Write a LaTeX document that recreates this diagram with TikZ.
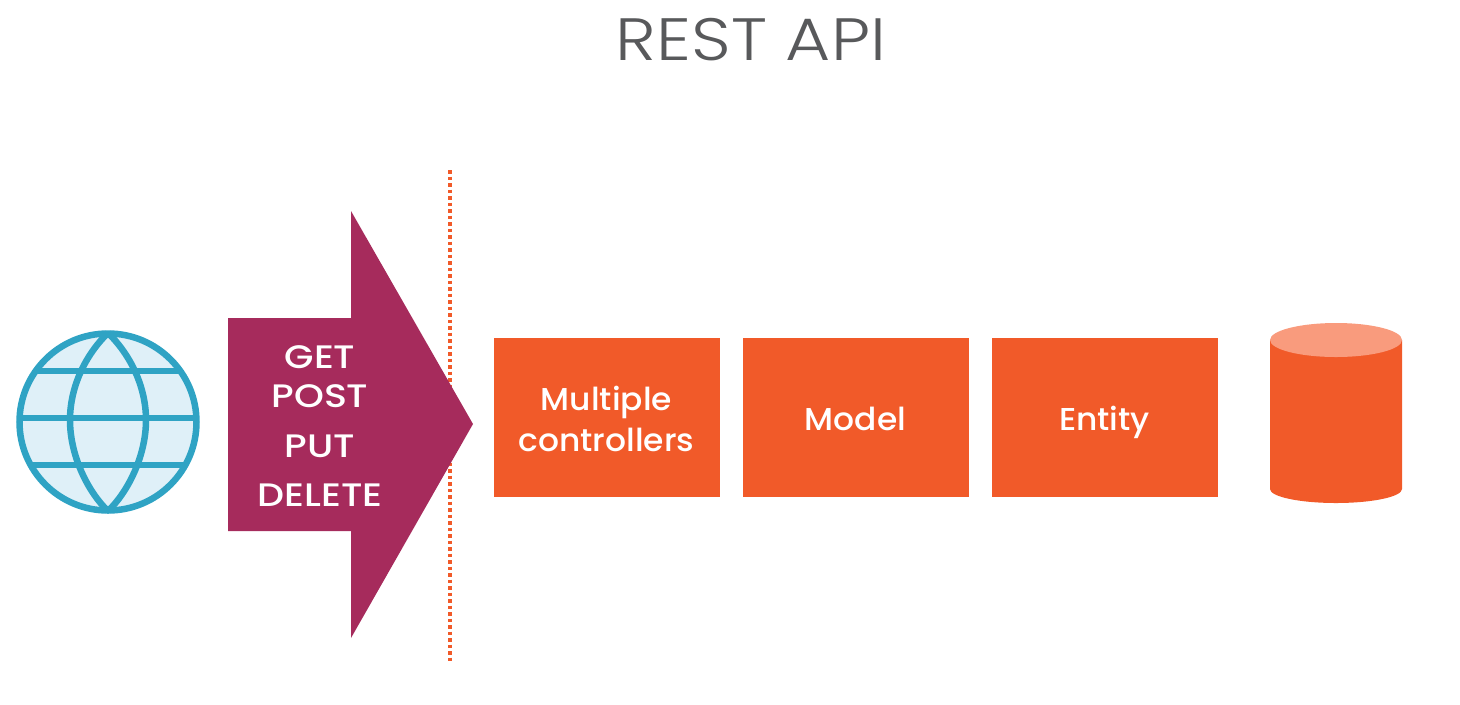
\documentclass[tikz,border=0pt]{standalone}
\usepackage{fontspec}
\setmainfont{Poppins}
\newfontfamily\thinfont[FakeStretch=1.16]{Poppins Light}
\newfontfamily\boxfont[FakeStretch=1.04]{Poppins Medium}
\newfontfamily\verbfont[FakeStretch=1.17]{Poppins Medium}
\usepackage{tikz}
\definecolor{orangebox}{HTML}{F15A29}
\definecolor{orangetop}{HTML}{F99B7D}
\definecolor{arrowred}{HTML}{A62B5C}
\definecolor{globeline}{HTML}{2FA3C4}
\definecolor{globefill}{HTML}{DFF0F8}
\definecolor{titlegray}{HTML}{58595B}
\tikzset{
	layerbox/.style={fill=orangebox, text=white, align=center, inner sep=0pt,
		minimum width=226*0.02cm, minimum height=159*0.02cm, font=\boxfont\fontsize{18}{23.2}\selectfont},
	verblabel/.style={text=white, inner sep=0pt, font=\verbfont\fontsize{18.5}{20}\selectfont},
	globeline/.style={draw=globeline, line width=3.7pt}
}

\begin{document}
\begin{tikzpicture}[x=0.02cm, y=-0.02cm]
		\useasboundingbox (0,0) rectangle (1460,704);
		\node[text=titlegray, inner sep=0pt, font=\thinfont\fontsize{34}{40}\selectfont] (title) at (751,40) {REST API};
		% globe
		\fill[globefill] (108,422) circle (88.5);
		\draw[globeline] (108,333) .. controls (89,351) and (70,383) .. (70,420) .. controls (70,457) and (89,493) .. (108,511);
		\draw[globeline] (108,333) .. controls (127,351) and (146,383) .. (146,420) .. controls (146,457) and (127,493) .. (108,511);
		\draw[globeline] (37,371) -- (179,371);
		\draw[globeline] (20,418) -- (196,418);
		\draw[globeline] (32,465) -- (184,465);
		\draw[globeline] (108,422) circle (88.5);
		% dotted boundary
		\draw[orangebox, line width=2pt, dash pattern=on 2pt off 1.7pt] (450,170) -- (450,664);
		% arrow
		\fill[arrowred] (228,318) -- (351,318) -- (351,211) -- (473,424) -- (351,638) -- (351,531) -- (228,531) -- cycle;
		\node[verblabel] (get) at (320,357) {GET};
		\node[verblabel] (post) at (320,396) {POST};
		\node[verblabel] (put) at (320,446) {PUT};
		\node[verblabel] (delete) at (320,495) {DELETE};
		% layers
		\node[layerbox, text height=38.8pt] (controllers) at (606.5,417.5) {Multiple\\controllers};
		\node[layerbox, text height=15pt, text depth=0pt] (model) at (855.5,417.5) {Model};
		\node[layerbox, text height=15pt, text depth=0pt] (entity) at (1104.5,417.5) {Entity};
		% database
		\fill[orangebox] (1270,340) -- (1270,489) arc[start angle=180, end angle=360, x radius=66, y radius=-14] -- (1402,340) -- cycle;
		\fill[orangetop] (1336,340) ellipse (66 and 17);
	\end{tikzpicture}
\end{document}
